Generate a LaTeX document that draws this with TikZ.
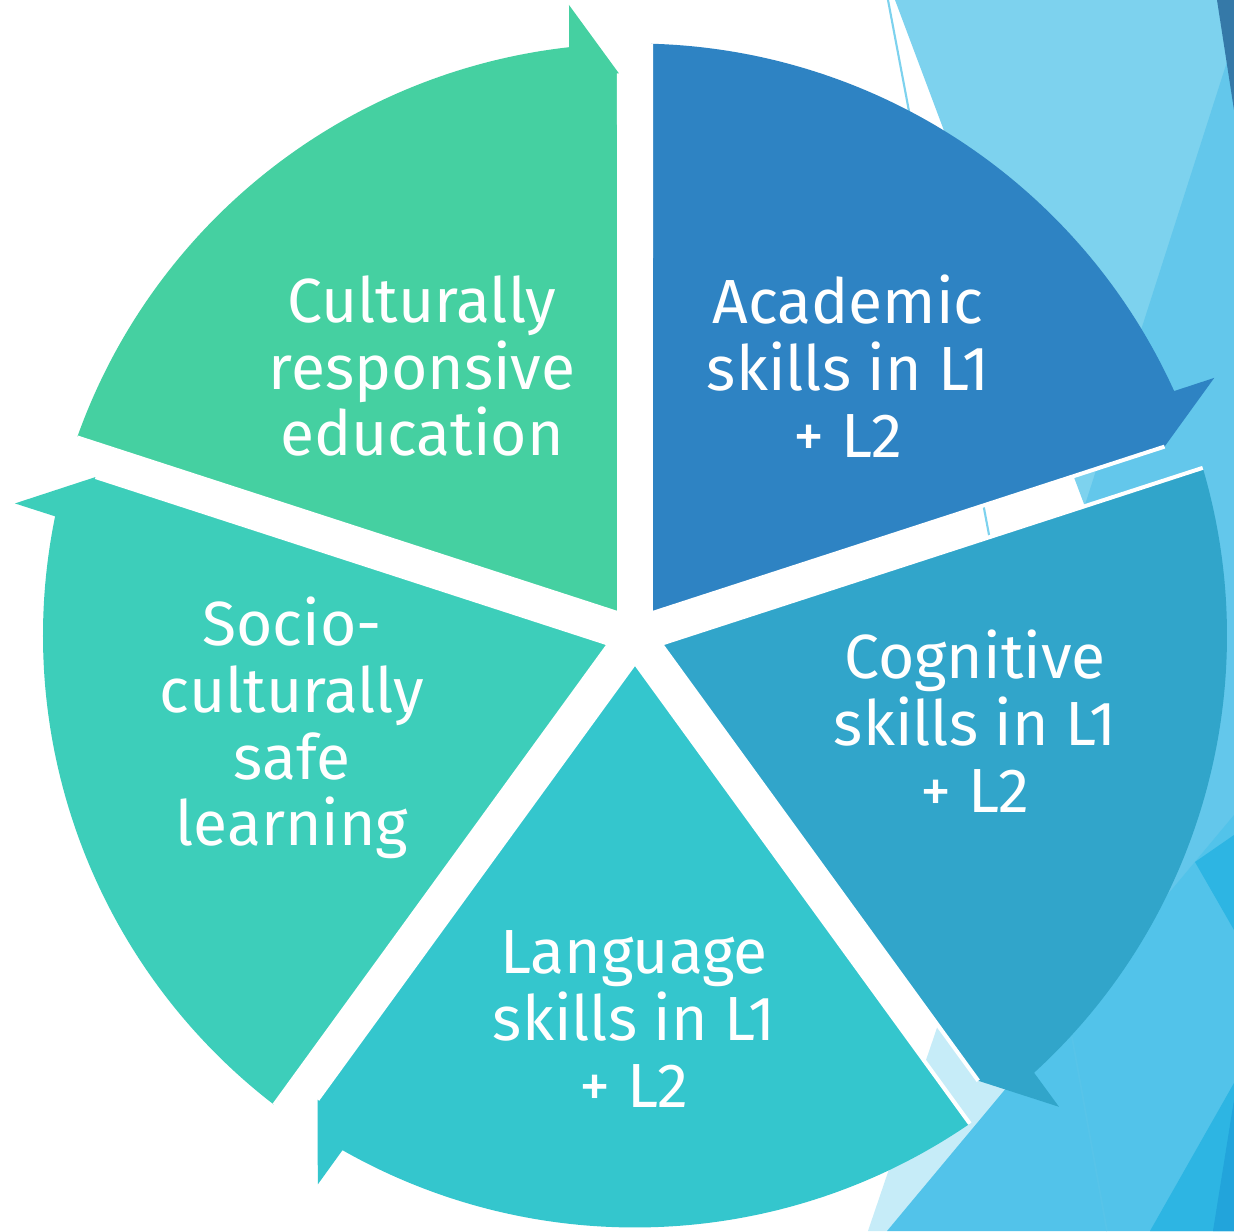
\documentclass[tikz,border=0pt]{standalone}
\usepackage{fontspec}
\setmainfont{Fira Sans}
\definecolor{culturegreen}{HTML}{45D0A1}
\definecolor{academicblue}{HTML}{2E83C3}
\definecolor{cognitiveblue}{HTML}{31A5CA}
\definecolor{languageteal}{HTML}{34C6CD}
\definecolor{sociogreen}{HTML}{3DCEBA}
\definecolor{facetlight}{HTML}{7DD2EE}
\definecolor{facetpale}{HTML}{C6ECF8}
\definecolor{facetmid}{HTML}{63C7EB}
\definecolor{facetsky}{HTML}{52C3EA}
\definecolor{facetdeep}{HTML}{2DB5E3}
\definecolor{facetdark}{HTML}{22A4DB}
\definecolor{facetnavy}{HTML}{3579A8}
\tikzstyle{segtext} = [text=white, align=center, inner sep=0pt, font=\fontsize{35.5}{38}\selectfont]
\tikzstyle{gapedge} = [draw=white, line width=0.08cm, line join=miter]

\begin{document}
\begin{tikzpicture}[x=0.02cm, y=0.02cm]
  \useasboundingbox (-635,-595.5) rectangle (599,635.5);
  \fill[white] (-635,-595.5) rectangle (599,635.5);
  % slide background, in pixel coordinates
  \begin{scope}[shift={(-635,635.5)}, yscale=-1]
    \fill[facetlight] (895,0) -- (1234,0) -- (1234,904) -- cycle;
    \fill[facetmid] (1234,40) -- (1000,770) -- (1234,1231) -- cycle;
    \fill[facetnavy] (1217,0) -- (1234,0) -- (1234,110) -- cycle;
    \draw[facetlight, line width=1.2pt] (888,0) -- (990,540);
    \fill[facetpale] (868,1231) -- (887,1231) -- (1050,1040) -- (960,960) -- cycle;
    \fill[facetsky] (887,1231) -- (1234,815) -- (1234,1231) -- cycle;
    \fill[facetdeep] (1234,835) -- (1195,862) -- (1234,930) -- cycle;
    \fill[facetdeep] (1150,1231) -- (1234,1083) -- (1234,1231) -- cycle;
    \fill[facetdark] (1213,1231) -- (1234,1100) -- (1234,1231) -- cycle;
    \draw[facetdeep!80!white, line width=1pt] (1072,1037) -- (1107,1231);
  \end{scope}
  % the five arrow segments
  \foreach \ang/\col in {90/culturegreen, 18/academicblue, -54/cognitiveblue, -126/languageteal, 162/sociogreen} {
    \begin{scope}[rotate=\ang]
      \fill[\col] (36:27.2) -- (70.45:592) arc[start angle=70.45, end angle=6.39, radius=592]
        -- (630.5,66) -- (562,16) -- cycle;
      \draw[gapedge] (70.45:592) -- (36:27.2) -- (562,16);
    \end{scope}
  }
  \begin{scope}[shift={(-635,635.5)}, yscale=-1]
    \node (culture) [segtext] at (422,366) {Culturally\\responsive\\education};
    \node (academic) [segtext] at (848,366) {Academic\\skills in L1\\+ L2};
    \node (cognitive) [segtext] at (975,721) {Cognitive\\skills in L1\\+ L2};
    \node (language) [segtext] at (634,1019) {Language\\skills in L1\\+ L2};
    \node (socio) [segtext] at (292,728) {Socio-\\culturally\\safe\\learning};
  \end{scope}
\end{tikzpicture}
\end{document}
